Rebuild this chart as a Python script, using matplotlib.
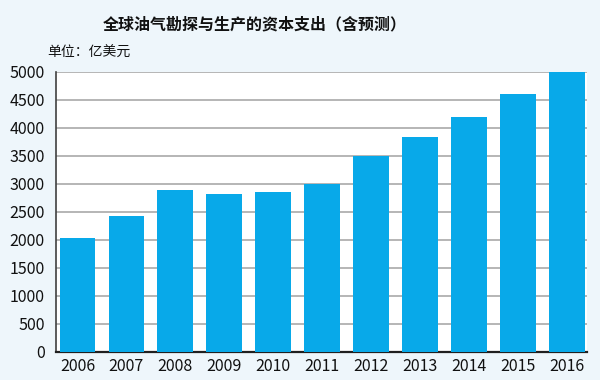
import numpy as np
import matplotlib
matplotlib.use('Agg')
import matplotlib.pyplot as plt

plt.rcParams['font.family'] = ['Noto Sans CJK SC', 'DejaVu Sans']

years = ['2006', '2007', '2008', '2009', '2010', '2011', '2012', '2013', '2014', '2015', '2016']
capex = [2030, 2420, 2890, 2810, 2850, 3000, 3500, 3830, 4200, 4600, 5000]
y_ticks = [0, 500, 1000, 1500, 2000, 2500, 3000, 3500, 4000, 4500, 5000]

title = '全球油气勘探与生产的资本支出（含预测）'
unit = '单位：亿美元'

bar_color = '#08a9e9'
bg_color = '#eef6fb'

fig = plt.figure(figsize=(6, 3.8), dpi=100, facecolor=bg_color)
ax = fig.add_axes([0.0933, 0.0737, 0.8847, 0.7376])
ax.set_facecolor('white')

x = np.arange(len(years))
ax.bar(x, capex, width=0.73, color=bar_color, zorder=3, clip_on=False)

ax.set_xlim(-0.44, len(years) - 0.59)
ax.set_ylim(0, 5000)
ax.set_yticks(y_ticks)
ax.set_xticks(x)
ax.set_xticklabels(years)
ax.yaxis.grid(True, color='#b0b0b0', linewidth=1.3, zorder=0)
ax.set_axisbelow(True)

for side in ['top', 'right']:
    ax.spines[side].set_visible(False)
ax.spines['left'].set_color('#404040')
ax.spines['left'].set_linewidth(1.2)
ax.spines['bottom'].set_color('#202020')
ax.spines['bottom'].set_linewidth(1.6)

ax.tick_params(axis='both', length=0, labelsize=11.5, colors='#111111')
ax.tick_params(axis='y', pad=8)
ax.tick_params(axis='x', pad=4)

fig.text(0.425, 0.935, title, ha='center', va='center', fontsize=11.5,
         fontweight='bold', color='#111111')
fig.text(0.078, 0.86, unit, ha='left', va='center', fontsize=10, color='#111111')

fig.savefig('out.png', dpi=100, facecolor=bg_color)
